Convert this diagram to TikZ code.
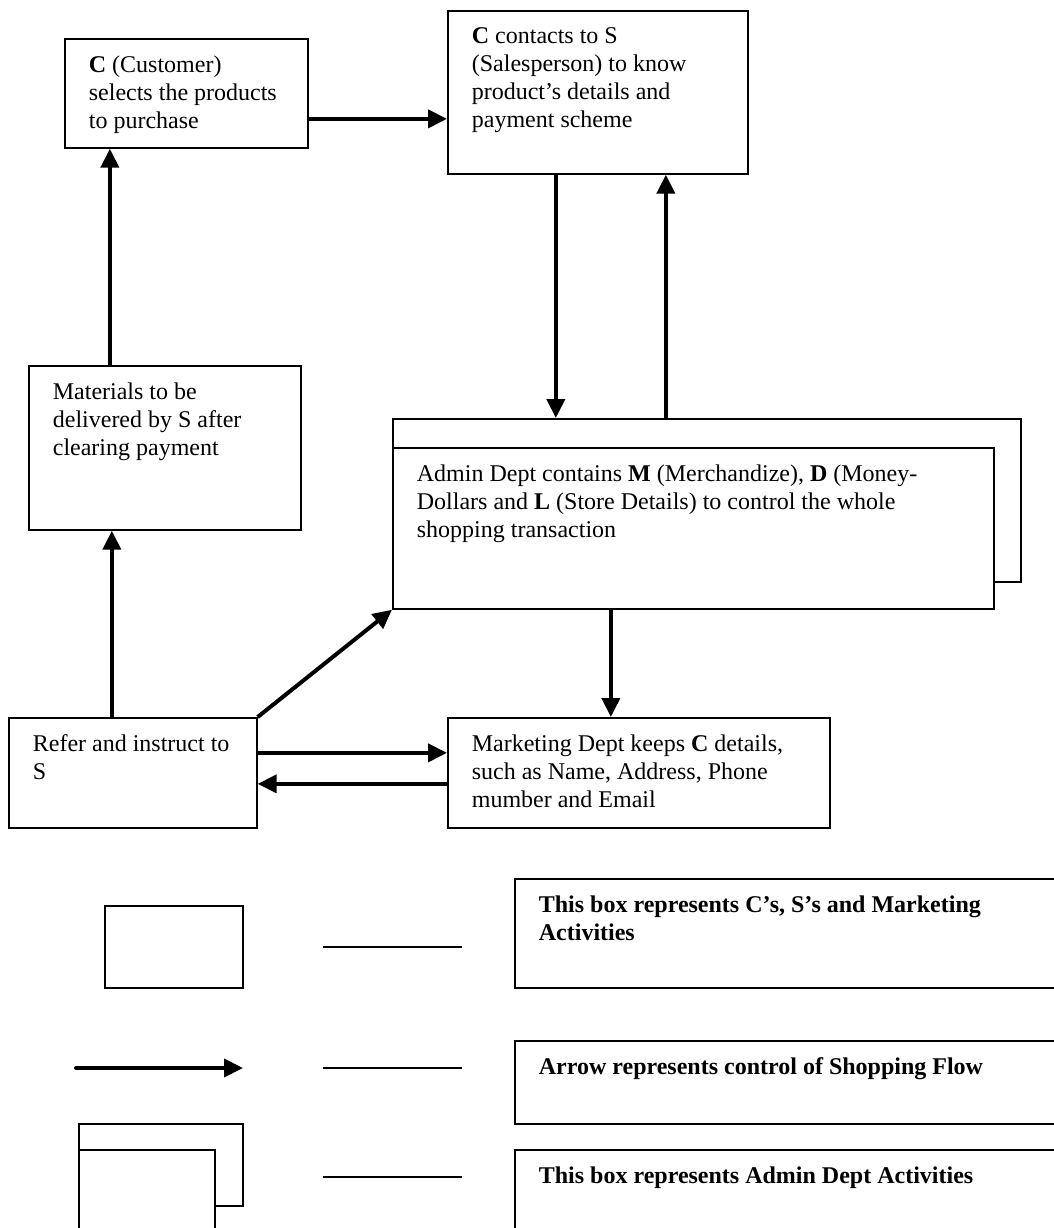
\documentclass[tikz,border=0pt]{standalone}
\usepackage{fontspec}
\setmainfont{Liberation Serif}
\usetikzlibrary{arrows.meta,calc}
\newcommand{\tbox}[3]{\parbox[c][\dimexpr #2pt/2-16.6pt\relax][t]{\dimexpr #1pt/2\relax}{\raggedright\leftskip=12pt\relax #3}}
\begin{document}
\begin{tikzpicture}[x=0.5pt,y=-0.5pt,
  box/.style={draw, line width=0.85pt, inner xsep=0pt, inner ysep=8.3pt, anchor=north west, font=\fontsize{12pt}{14pt}\selectfont},
  sym/.style={draw, line width=0.85pt, inner sep=0pt, anchor=north west},
  arr/.style={line width=2pt, -{Triangle[length=9.5pt,width=9pt]}},
  legline/.style={line width=0.75pt}]
\useasboundingbox (0,0) rectangle (1054,1228);
\fill[white] (0,0) rectangle (1054,1228);
\clip (0,0) rectangle (1054,1228);

% main boxes
\node[box] (A) at (64,38) {\tbox{243}{109}{\textbf{C} (Customer)\\selects the products\\to purchase}};
\node[box] (B) at (447,10) {\tbox{300}{163}{\textbf{C} contacts to S\\(Salesperson) to know\\product’s details and\\payment scheme}};
\node[box] (M) at (28,365) {\tbox{272}{164}{Materials to be\\delivered by S after\\clearing payment}};
\node[sym, minimum width=314pt, minimum height=81.5pt] (Ao) at (392,418) {};
\node[box, fill=white] (Ai) at (392,447) {\tbox{601}{161}{Admin Dept contains \textbf{M} (Merchandize), \textbf{D} (Money-\\Dollars and \textbf{L} (Store Details) to control the whole\\shopping transaction}};
\node[box] (R) at (8,717) {\tbox{248}{110}{Refer and instruct to\\S}};
\node[box] (K) at (447,717) {\tbox{382}{110}{Marketing Dept keeps \textbf{C} details,\\such as Name, Address, Phone\\mumber and Email}};

% connectors
\coordinate (ab) at ($(A.east)+(0,25.5)$);
\draw[arr] (ab) -- (ab -| B.west);
\coordinate (b1) at ($(B.south)+(-42,0)$);
\draw[arr] (b1) -- (b1 |- Ao.north);
\coordinate (b2) at ($(B.south)+(68,0)$);
\draw[arr] (b2 |- Ao.north) -- (b2);
\coordinate (m1) at ($(M.north)+(-55,0)$);
\draw[arr] (m1) -- (m1 |- A.south);
\coordinate (r1) at ($(R.north)+(-21,0)$);
\draw[arr] (r1) -- (r1 |- M.south);
\draw[arr] (R.north east) -- (Ai.south west);
\coordinate (a1) at ($(Ai.south)+(-82.5,0)$);
\draw[arr] (a1) -- (a1 |- K.north);
\coordinate (r2) at ($(R.east)+(0,-20)$);
\draw[arr] (r2) -- (r2 -| K.west);
\coordinate (r3) at ($(R.east)+(0,11)$);
\draw[arr] (r3 -| K.west) -- (r3);

% legend symbols
\node[sym, minimum width=69pt, minimum height=41pt] (Lr) at (104,905) {};
\coordinate (la) at (76,1068);
\coordinate (lb) at (243,1068);
\draw[arr, line cap=round] (la) -- (lb);
\node[sym, minimum width=82pt, minimum height=41pt] (Do) at (78,1123) {};
\node[sym, fill=white, minimum width=68pt, minimum height=52pt] (Di) at (78,1149) {};

% legend dashes
\coordinate (l1a) at (323,947);
\coordinate (l1b) at (462,947);
\draw[legline] (l1a) -- (l1b);
\coordinate (l2a) at (323,1068);
\coordinate (l2b) at (462,1068);
\draw[legline] (l2a) -- (l2b);
\coordinate (l3a) at (323,1177);
\coordinate (l3b) at (462,1177);
\draw[legline] (l3a) -- (l3b);

% legend boxes
\node[box] (L1) at (514,878) {\tbox{560}{109}{\bfseries This box represents C’s, S’s and Marketing\\Activities}};
\node[box] (L2) at (514,1040) {\tbox{560}{83}{\bfseries Arrow represents control of Shopping Flow}};
\node[box] (L3) at (514,1149) {\tbox{560}{110}{\bfseries This box represents Admin Dept Activities}};
\end{tikzpicture}
\end{document}
